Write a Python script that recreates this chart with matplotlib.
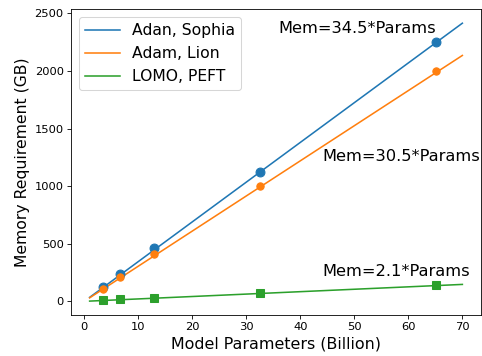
import numpy as np
import matplotlib
matplotlib.use('Agg')
import matplotlib.pyplot as plt

params = [3.4, 6.7, 13, 32.5, 65.2]
mem_sophia = [124, 237, 461, 1127, 2249]
mem_lion = [107, 211, 408, 1000, 2000]
mem_lomo = [14, 18, 31, 70, 139]

slopes = [34.5, 30.5, 2.1]
labels = ['Adan, Sophia', 'Adam, Lion', 'LOMO, PEFT']

# the picture looks like a 6.4in figure shrunk down, so render at a lower dpi
dpi = 75.3
fig = plt.figure(figsize=(482/dpi, 356/dpi), dpi=dpi)
ax = fig.add_axes([71/482, 1-315/356, 410/482, (315-9.3)/356])

x = np.linspace(1, 70, 100)
ax.plot(x, slopes[0]*x, color='C0', lw=1.5, label=labels[0])
ax.plot(x, slopes[1]*x, color='C1', lw=1.5, label=labels[1])
ax.plot(x, slopes[2]*x, color='C2', lw=1.5, label=labels[2])

ax.plot(params, mem_sophia, 'o', color='C0', ms=8.5)
ax.plot(params, mem_lion, 'o', color='C1', ms=7)
ax.plot(params, mem_lomo, 's', color='C2', ms=7)

ax.text(36, 2368, 'Mem=34.5*Params', fontsize=15.5, va='center')
ax.text(44, 1254, 'Mem=30.5*Params', fontsize=15.5, va='center')
ax.text(44, 257, 'Mem=2.1*Params', fontsize=15.5, va='center')

ax.set_xticks([0, 10, 20, 30, 40, 50, 60, 70])
ax.tick_params(labelsize=11)
ax.set_xlabel('Model Parameters (Billion)', fontsize=15.2)
ax.set_ylabel('Memory Requirement (GB)', fontsize=15)
ax.legend(loc='upper left', fontsize=15, handlelength=2.2)

plt.savefig('out.png', dpi=dpi)
